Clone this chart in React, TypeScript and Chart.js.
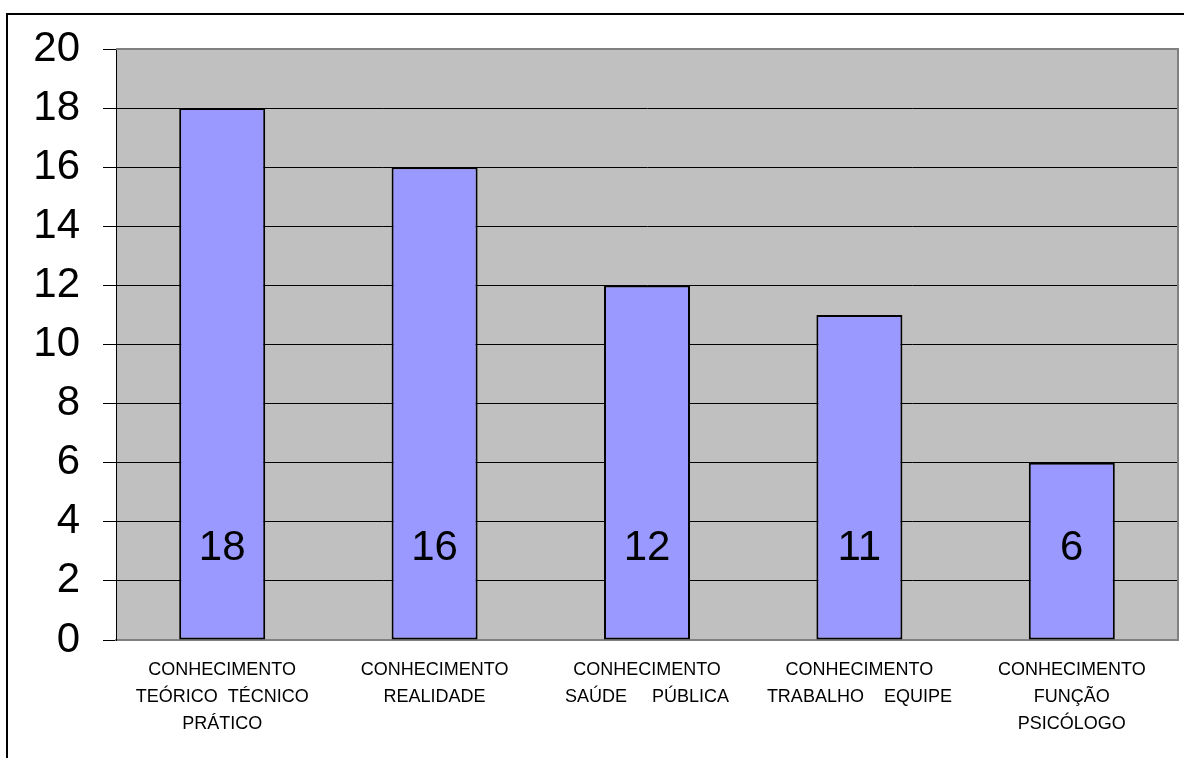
import React, { useEffect, useRef } from "react";
import { Chart, registerables } from "chart.js";

Chart.register(...registerables);

const categories: string[][] = [
  ["CONHECIMENTO", "TEÓRICO  TÉCNICO", "PRÁTICO"],
  ["CONHECIMENTO", "REALIDADE"],
  ["CONHECIMENTO", "SAÚDE     PÚBLICA"],
  ["CONHECIMENTO", "TRABALHO    EQUIPE"],
  ["CONHECIMENTO", "FUNÇÃO", "PSICÓLOGO"],
];
const values: number[] = [18, 16, 12, 11, 6];
const yMin = 0;
const yMax = 20;
const yStep = 2;

const FONT = "'Liberation Sans', Arial, sans-serif";
const LABEL_VALUE_POS = 3;

const framePlugin = {
  id: "frame",
  beforeDraw(chart: any) {
    const { ctx, chartArea } = chart;
    ctx.save();
    ctx.fillStyle = "#ffffff";
    ctx.fillRect(0, 0, chart.width, chart.height);
    ctx.strokeStyle = "#000000";
    ctx.lineWidth = 2;
    ctx.beginPath();
    ctx.moveTo(7, chart.height + 2);
    ctx.lineTo(7, 14);
    ctx.lineTo(chart.width + 2, 14);
    ctx.stroke();
    ctx.fillStyle = "#C0C0C0";
    ctx.fillRect(chartArea.left, chartArea.top, chartArea.right - chartArea.left, chartArea.bottom - chartArea.top);
    ctx.restore();
  },
  afterDatasetsDraw(chart: any) {
    const { ctx, chartArea, scales } = chart;
    ctx.save();
    ctx.strokeStyle = "#808080";
    ctx.lineWidth = 2;
    ctx.beginPath();
    ctx.moveTo(chartArea.left, chartArea.top);
    ctx.lineTo(chartArea.right, chartArea.top);
    ctx.lineTo(chartArea.right, chartArea.bottom);
    ctx.stroke();
    // value labels
    const meta = chart.getDatasetMeta(0);
    ctx.fillStyle = "#000000";
    ctx.font = `42px ${FONT}`;
    ctx.textAlign = "center";
    ctx.textBaseline = "middle";
    const y = scales.y.getPixelForValue(LABEL_VALUE_POS) - 3;
    meta.data.forEach((bar: any, i: number) => {
      ctx.fillText(String(values[i]), bar.x, y);
    });
    ctx.restore();
  },
};

export default function App() {
  const ref = useRef<HTMLCanvasElement | null>(null);
  useEffect(() => {
    if (!ref.current) return;
    const chart = new Chart(ref.current, {
      type: "bar",
      data: {
        labels: categories,
        datasets: [
          {
            data: values,
            backgroundColor: "#9999FF",
            borderColor: "#000000",
            borderWidth: 2,
            borderSkipped: false,
            categoryPercentage: 1,
            barPercentage: 0.405,
          },
        ],
      },
      options: {
        animation: false,
        responsive: true,
        maintainAspectRatio: false,
        layout: { padding: { top: 49, right: 6, left: 0, bottom: 0 } },
        plugins: {
          legend: { display: false },
          tooltip: { enabled: false },
          title: { display: false },
        },
        scales: {
          x: {
            grid: { display: false, drawTicks: false },
            border: { display: true, color: "#808080", width: 2 },
            ticks: {
              color: "#000000",
              font: { family: FONT, size: 18, lineHeight: 1.48 },
              padding: 17,
              maxRotation: 0,
              minRotation: 0,
              autoSkip: false,
            },
            afterFit: (scale: any) => {
              scale.height = 118;
            },
          },
          y: {
            min: yMin,
            max: yMax,
            grid: {
              color: (c: any) => (c.tick && c.tick.value === yMin ? "rgba(0,0,0,0)" : "#000000"),
              lineWidth: 1,
              tickColor: "#000000",
              tickLength: 13,
              drawTicks: true,
            },
            border: { display: true, color: "#000000", width: 1 },
            ticks: {
              stepSize: yStep,
              color: "#000000",
              font: { family: FONT, size: 42 },
              padding: 23,
            },
            afterFit: (scale: any) => {
              scale.width = 116;
            },
          },
        },
      },
      plugins: [framePlugin],
    });
    return () => chart.destroy();
  }, []);
  return (
    <div style={{ position: "absolute", left: 0, top: 0, width: 1184, height: 758, background: "#fff" }}>
      <canvas ref={ref} />
    </div>
  );
}
